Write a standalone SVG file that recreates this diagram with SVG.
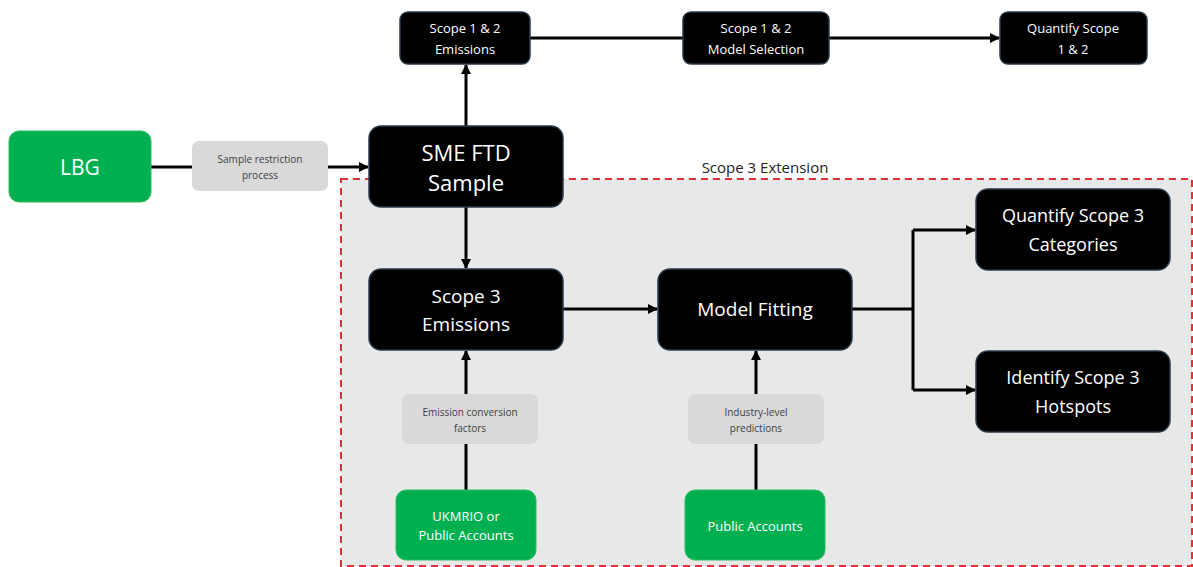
<svg xmlns="http://www.w3.org/2000/svg" width="1193" height="567" viewBox="0 0 1193 567">
<defs>
<marker id="ah" viewBox="0 0 10 10" refX="9" refY="5" markerWidth="10" markerHeight="10" markerUnits="userSpaceOnUse" orient="auto">
<path d="M0,0 L10,5 L0,10 z" fill="#000"/>
</marker>
<style>
.blk{fill:#000;stroke:#2b3a48;stroke-width:1.5}
.grn{fill:#00b050;stroke:#2bbd60;stroke-width:1}
.gry{fill:#d9d9d9}
.t{font-family:"Open Sans","Liberation Sans",sans-serif;fill:#fff;text-anchor:middle}
.g{font-family:"Open Sans","Liberation Sans",sans-serif;fill:#404040;text-anchor:middle;font-size:10px}
.c{stroke:#000;stroke-width:3;fill:none}
</style>
</defs>
<rect x="0" y="0" width="1193" height="567" fill="#fff"/>
<g id="scope3-region">
<rect x="341" y="179" width="851" height="387" fill="#e8e8e8" stroke="#e0303a" stroke-width="2" stroke-dasharray="7,5"/>
<text x="765" y="173" font-family="'Open Sans','Liberation Sans',sans-serif" font-size="15" fill="#222" text-anchor="middle">Scope 3 Extension</text>
</g>
<g id="connectors">
<line class="c" x1="151" y1="167" x2="192" y2="167"/>
<line class="c" x1="328" y1="167" x2="368" y2="167" marker-end="url(#ah)"/>
<line class="c" x1="466" y1="126" x2="466" y2="65" marker-end="url(#ah)"/>
<line class="c" x1="530" y1="38" x2="683" y2="38"/>
<line class="c" x1="829" y1="38" x2="999" y2="38" marker-end="url(#ah)"/>
<line class="c" x1="466" y1="207" x2="466" y2="268" marker-end="url(#ah)"/>
<line class="c" x1="563" y1="309" x2="657" y2="309" marker-end="url(#ah)"/>
<path class="c" d="M852,309 H913"/>
<path class="c" d="M913,230 V390"/>
<path class="c" d="M913,230 H975" marker-end="url(#ah)"/>
<path class="c" d="M913,390 H975" marker-end="url(#ah)"/>
<line class="c" x1="466" y1="490" x2="466" y2="444"/>
<line class="c" x1="466" y1="394" x2="466" y2="351" marker-end="url(#ah)"/>
<line class="c" x1="756" y1="490" x2="756" y2="444"/>
<line class="c" x1="756" y1="394" x2="756" y2="351" marker-end="url(#ah)"/>
</g>
<g id="lbg">
<rect class="grn" x="9" y="131" width="142" height="71" rx="10"/>
<text class="t" x="80" y="175" font-size="21">LBG</text>
</g>
<g id="sample-restriction">
<rect class="gry" x="192" y="141" width="136" height="50" rx="7"/>
<text class="g" x="260" y="163">Sample restriction</text>
<text class="g" x="260" y="179">process</text>
</g>
<g id="sme-ftd">
<rect class="blk" x="369" y="126" width="194" height="81" rx="12"/>
<text class="t" x="466" y="161" font-size="22">SME FTD</text>
<text class="t" x="466" y="191" font-size="22">Sample</text>
</g>
<g id="s12-emissions">
<rect class="blk" x="400" y="12" width="130" height="52" rx="8"/>
<text class="t" x="465" y="33" font-size="13">Scope 1 &amp; 2</text>
<text class="t" x="465" y="54" font-size="13">Emissions</text>
</g>
<g id="s12-model">
<rect class="blk" x="683" y="12" width="146" height="52" rx="8"/>
<text class="t" x="756" y="33" font-size="13">Scope 1 &amp; 2</text>
<text class="t" x="756" y="54" font-size="13">Model Selection</text>
</g>
<g id="s12-quantify">
<rect class="blk" x="1000" y="12" width="147" height="52" rx="8"/>
<text class="t" x="1073" y="33" font-size="13">Quantify Scope</text>
<text class="t" x="1073" y="54" font-size="13">1 &amp; 2</text>
</g>
<g id="s3-emissions">
<rect class="blk" x="369" y="269" width="194" height="81" rx="12"/>
<text class="t" x="466" y="303" font-size="19">Scope 3</text>
<text class="t" x="466" y="331" font-size="19">Emissions</text>
</g>
<g id="model-fitting">
<rect class="blk" x="658" y="269" width="194" height="81" rx="12"/>
<text class="t" x="755" y="316" font-size="19">Model Fitting</text>
</g>
<g id="s3-categories">
<rect class="blk" x="976" y="189" width="194" height="81" rx="12"/>
<text class="t" x="1073" y="222" font-size="18">Quantify Scope 3</text>
<text class="t" x="1073" y="251" font-size="18">Categories</text>
</g>
<g id="s3-hotspots">
<rect class="blk" x="976" y="351" width="194" height="81" rx="12"/>
<text class="t" x="1073" y="384" font-size="18">Identify Scope 3</text>
<text class="t" x="1073" y="413" font-size="18">Hotspots</text>
</g>
<g id="emission-factors">
<rect class="gry" x="402" y="394" width="136" height="50" rx="7"/>
<text class="g" x="470" y="416">Emission conversion</text>
<text class="g" x="470" y="432">factors</text>
</g>
<g id="industry-predictions">
<rect class="gry" x="688" y="394" width="136" height="50" rx="7"/>
<text class="g" x="756" y="416">Industry-level</text>
<text class="g" x="756" y="432">predictions</text>
</g>
<g id="ukmrio">
<rect class="grn" x="396" y="490" width="140" height="70" rx="10"/>
<text class="t" x="466" y="521" font-size="13">UKMRIO or</text>
<text class="t" x="466" y="540" font-size="13">Public Accounts</text>
</g>
<g id="public-accounts">
<rect class="grn" x="685" y="490" width="140" height="70" rx="10"/>
<text class="t" x="755" y="531" font-size="13">Public Accounts</text>
</g>
</svg>
